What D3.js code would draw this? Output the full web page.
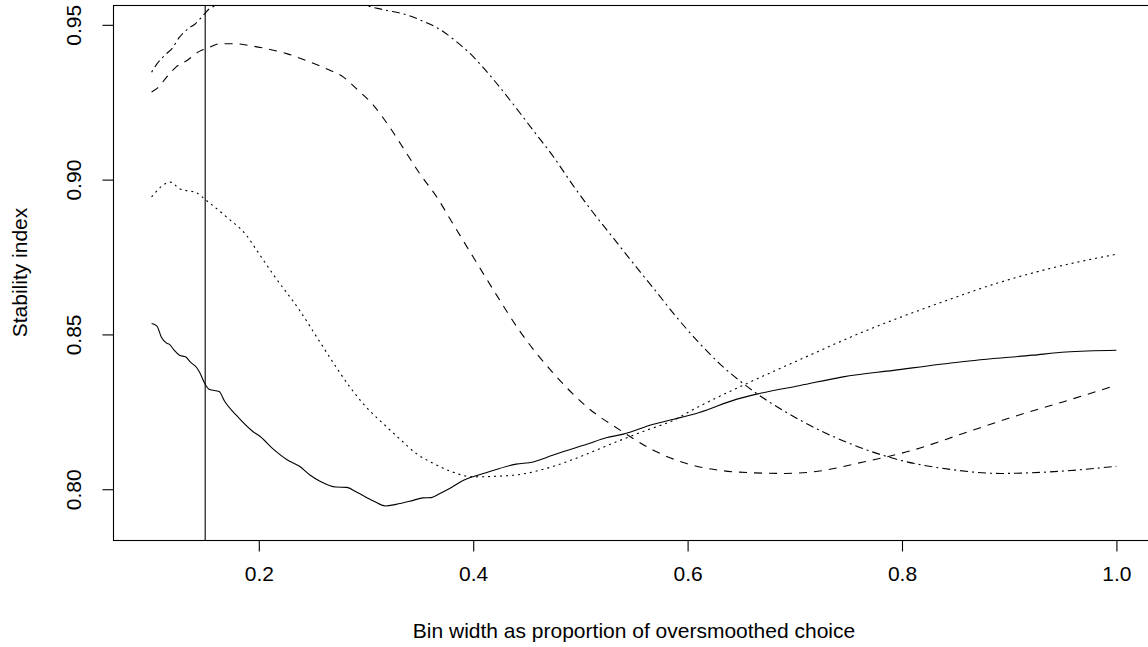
<!DOCTYPE html>
<html>
<head>
<meta charset="UTF-8">
<title>Stability index</title>
<style>
  body { margin: 0; background: white; }
  svg { display: block; }
  text { font-family: "Liberation Sans", Arial, sans-serif; fill: black; }
</style>
</head>
<body>
<svg></svg>
<script src="https://d3js.org/d3.v7.min.js"></script>
<script>
// readings: [bin width proportion, stability index]
let solidPts = [[0.100,0.8535],[0.105,0.8527],[0.109,0.8492],[0.114,0.8472],[0.117,0.8467],[0.121,0.8449],
  [0.126,0.8433],[0.132,0.8427],[0.136,0.8411],[0.142,0.8393],[0.145,0.8376],[0.150,0.8339],[0.154,0.8322],
  [0.163,0.8316],[0.168,0.8285],[0.179,0.8239],[0.195,0.8185],[0.201,0.8171],[0.213,0.8131],[0.226,0.8096],
  [0.238,0.8074],[0.248,0.8045],[0.257,0.8026],[0.272,0.8007],[0.282,0.8006],[0.291,0.7991],[0.307,0.7962],
  [0.318,0.7946],[0.328,0.7951],[0.344,0.7964],[0.353,0.7972],[0.361,0.7973],[0.369,0.7986],[0.378,0.8002],
  [0.391,0.8029],[0.412,0.8053],[0.440,0.8081],[0.456,0.8088],[0.468,0.8102],[0.481,0.8118],[0.506,0.8145],
  [0.524,0.8166],[0.540,0.8178],[0.568,0.8210],[0.587,0.8226],[0.611,0.8248],[0.646,0.8291],[0.667,0.8309],
  [0.705,0.8335],[0.745,0.8363],[0.792,0.8384],[0.854,0.8411],[0.922,0.8433],[0.953,0.8443],[1.000,0.8449]];

let dottedPts = [[0.100,0.8944],[0.1176,0.8992],[0.126,0.8971],[0.142,0.8957],[0.151,0.8933],[0.170,0.8879],
  [0.1885,0.8820],[0.198,0.8772],[0.215,0.8686],[0.238,0.8578],[0.254,0.8492],[0.269,0.8411],[0.285,0.8330],
  [0.300,0.8266],[0.316,0.8212],[0.331,0.8164],[0.347,0.8115],[0.363,0.8083],[0.378,0.8059],[0.400,0.8040],
  [0.437,0.8045],[0.468,0.8067],[0.499,0.8104],[0.530,0.8148],[0.562,0.8191],[0.583,0.8217],[0.611,0.8268],
  [0.655,0.8341],[0.705,0.8419],[0.767,0.8513],[0.829,0.8594],[0.892,0.8669],[0.938,0.8713],[1.000,0.8759]];

let dashedPts = [[0.100,0.9283],[0.106,0.9297],[0.114,0.9331],[0.123,0.9364],[0.133,0.9385],[0.145,0.9415],
  [0.151,0.9423],[0.164,0.9439],[0.176,0.9439],[0.195,0.9431],[0.207,0.9423],[0.226,0.9407],[0.244,0.9385],
  [0.263,0.9358],[0.279,0.9331],[0.291,0.9294],[0.307,0.9240],[0.322,0.9170],[0.338,0.9084],[0.350,0.9020],
  [0.366,0.8944],[0.381,0.8858],[0.400,0.8750],[0.422,0.8626],[0.443,0.8513],[0.475,0.8374],[0.506,0.8266],
  [0.537,0.8191],[0.568,0.8126],[0.599,0.8083],[0.630,0.8061],[0.661,0.8053],[0.690,0.8051],[0.717,0.8056],
  [0.764,0.8088],[0.810,0.8126],[0.857,0.8180],[0.903,0.8233],[0.950,0.8282],[1.000,0.8336]];

let dotdashPts = [[0.100,0.9347],[0.105,0.9374],[0.114,0.9407],[0.119,0.9423],[0.126,0.9460],[0.136,0.9492],
  [0.140,0.9501],[0.148,0.9530],[0.154,0.9552],[0.168,0.9570],[0.185,0.9595],[0.210,0.9615],[0.240,0.9620],
  [0.265,0.9605],[0.285,0.9585],[0.297,0.9566],[0.316,0.9549],[0.338,0.9532],[0.353,0.9512],[0.369,0.9485],
  [0.381,0.9455],[0.400,0.9397],[0.419,0.9323],[0.437,0.9245],[0.456,0.9159],[0.475,0.9073],[0.493,0.8982],
  [0.512,0.8893],[0.531,0.8810],[0.549,0.8731],[0.571,0.8637],[0.587,0.8567],[0.611,0.8472],[0.630,0.8405],
  [0.652,0.8341],[0.705,0.8223],[0.751,0.8148],[0.798,0.8094],[0.845,0.8064],[0.892,0.8051],[0.938,0.8056],
  [1.000,0.8074]];

let xTicks = [0.2, 0.4, 0.6, 0.8, 1.0];
let yTicks = [0.80, 0.85, 0.90, 0.95];
let vLine = 0.15;

let width = 1148, height = 647;
let mLeft = 113, mRight = 1155, mTop = 5, mBottom = 540;

let svg = d3.select("svg").attr("width", width).attr("height", height);

// R style: xlim c(0.1,1), ylim c(0.79,0.95), each padded 4%
let x = d3.scaleLinear().domain([0.1 - 0.036, 1 + 0.036]).range([mLeft, mRight]);
let y = d3.scaleLinear().domain([0.79 - 0.0064, 0.95 + 0.0064]).range([mBottom, mTop]);

svg.append("clipPath").attr("id", "plotclip")
  .append("rect").attr("x", mLeft).attr("y", mTop)
  .attr("width", mRight - mLeft).attr("height", mBottom - mTop);

let line = d3.line().x(d => x(d[0])).y(d => y(d[1])).curve(d3.curveMonotoneX);

let series = [
  { pts: solidPts, dash: null },
  { pts: dottedPts, dash: "2,4" },
  { pts: dashedPts, dash: "8,7" },
  { pts: dotdashPts, dash: "2,4,8,4" }
];

let g = svg.append("g").attr("clip-path", "url(#plotclip)");
series.forEach(s => {
  g.append("path")
    .attr("d", line(s.pts))
    .attr("fill", "none")
    .attr("stroke", "black")
    .attr("stroke-width", 1.1)
    .attr("stroke-dasharray", s.dash);
});

// vertical reference line
g.append("line")
  .attr("x1", x(vLine)).attr("x2", x(vLine))
  .attr("y1", mTop).attr("y2", mBottom)
  .attr("stroke", "black").attr("stroke-width", 1.1);

// box
svg.append("rect")
  .attr("x", mLeft + 0.5).attr("y", mTop + 0.5)
  .attr("width", mRight - mLeft).attr("height", mBottom - mTop)
  .attr("fill", "none").attr("stroke", "black").attr("stroke-width", 1.1);

// axes
let xAxis = svg.append("g")
  .attr("transform", "translate(0," + (mBottom + 0.5) + ")")
  .call(d3.axisBottom(x).tickValues(xTicks).tickFormat(d3.format(".1f")).tickSize(11).tickPadding(15));
xAxis.select(".domain").remove();

let yAxis = svg.append("g")
  .attr("transform", "translate(" + (mLeft + 0.5) + ",0)")
  .call(d3.axisLeft(y).tickValues(yTicks).tickFormat(d3.format(".2f")).tickSize(11));
yAxis.select(".domain").remove();
yAxis.selectAll(".tick text")
  .attr("x", null)
  .attr("text-anchor", "middle")
  .attr("transform", "translate(-40,0) rotate(-90)")
  .attr("dy", "0.35em");

svg.selectAll(".tick text").style("font-size", "21px").style("font-family", "'Liberation Sans', Arial, sans-serif");
svg.selectAll(".tick line").attr("stroke-width", 1.1);

svg.append("text")
  .attr("x", (mLeft + mRight) / 2).attr("y", mBottom + 91)
  .attr("text-anchor", "middle").attr("dy", "0.35em")
  .style("font-size", "21px")
  .text("Bin width as proportion of oversmoothed choice");

svg.append("text")
  .attr("transform", "translate(" + (mLeft - 93) + "," + ((mTop + mBottom) / 2) + ") rotate(-90)")
  .attr("text-anchor", "middle").attr("dy", "0.35em")
  .style("font-size", "21px")
  .text("Stability index");
</script>
</body>
</html>
